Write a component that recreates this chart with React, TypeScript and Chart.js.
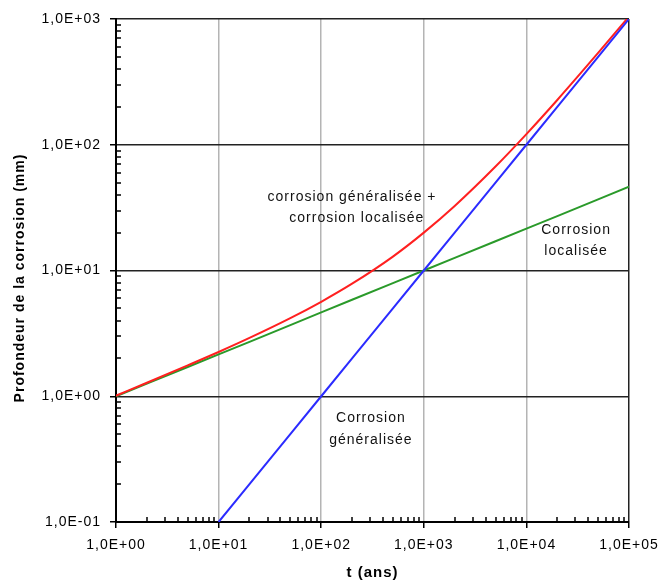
import React, { useEffect, useRef } from 'react';
import { Chart, registerables } from 'chart.js';

Chart.register(...registerables);

// Time (years) and depth (mm) samples
const years = [1, 2, 5, 10, 20, 50, 100, 200, 500, 1000, 2000, 5000, 10000, 20000, 50000, 100000];
const generalYears = [10, 20, 50, 100, 200, 500, 1000, 2000, 5000, 10000, 20000, 50000, 100000];
const generalDepth = [0.1, 0.2, 0.5, 1, 2, 5, 10, 20, 50, 100, 200, 500, 1000];
const localDepth = [1, 1.26, 1.71, 2.15, 2.71, 3.68, 4.64, 5.85, 7.94, 10, 12.6, 17.1, 21.5, 27.1, 36.8, 46.4];
const combinedDepth = [1.01, 1.28, 1.76, 2.25, 2.91, 4.18, 5.64, 7.85, 12.9, 20, 32.6, 67.1, 121.5, 227, 537, 1046];

const xTickValues = [1, 10, 100, 1000, 10000, 100000];
const xTickLabels = ['1,0E+00', '1,0E+01', '1,0E+02', '1,0E+03', '1,0E+04', '1,0E+05'];
const yTickValues = [0.1, 1, 10, 100, 1000];
const yTickLabels = ['1,0E-01', '1,0E+00', '1,0E+01', '1,0E+02', '1,0E+03'];
const minorMultipliers = [2, 3, 4, 5, 6, 7, 8, 9];

const yTitle = 'Profondeur de la corrosion (mm)';

// In-plot text: anchor in data units
const notes = [
  { text: 'corrosion généralisée +', x: 1330, y: 38, align: 'right' as CanvasTextAlign },
  { text: 'corrosion localisée', x: 1010, y: 26, align: 'right' as CanvasTextAlign },
  { text: 'Corrosion', x: 30500, y: 20.9, align: 'center' as CanvasTextAlign },
  { text: 'localisée', x: 30500, y: 14.2, align: 'center' as CanvasTextAlign },
  { text: 'Corrosion', x: 305, y: 0.675, align: 'center' as CanvasTextAlign },
  { text: 'généralisée', x: 305, y: 0.444, align: 'center' as CanvasTextAlign },
];

const FONT = "'Liberation Sans', Arial, sans-serif";

const spacingPlugin = {
  id: 'spacing',
  beforeDraw(chart: any) {
    chart.ctx.letterSpacing = '1px';
  },
};

const minorTicksPlugin = {
  id: 'minorTicks',
  afterDraw(chart: any) {
    const { ctx, chartArea, scales } = chart;
    const len = 5;
    ctx.save();
    ctx.strokeStyle = '#000';
    ctx.lineWidth = 1.5;
    ctx.beginPath();
    for (let i = 0; i < xTickValues.length - 1; i++) {
      for (const m of minorMultipliers) {
        const px = Math.round(scales.x.getPixelForValue(xTickValues[i] * m));
        ctx.moveTo(px, chartArea.bottom);
        ctx.lineTo(px, chartArea.bottom - len);
      }
    }
    for (let i = 0; i < yTickValues.length - 1; i++) {
      for (const m of minorMultipliers) {
        const py = Math.round(scales.y.getPixelForValue(yTickValues[i] * m));
        ctx.moveTo(chartArea.left, py);
        ctx.lineTo(chartArea.left + len, py);
      }
    }
    ctx.stroke();
    ctx.restore();
  },
};

const notesPlugin = {
  id: 'notes',
  afterDraw(chart: any) {
    const { ctx, scales } = chart;
    ctx.save();
    ctx.letterSpacing = '1px';
    ctx.font = `14px ${FONT}`;
    ctx.fillStyle = '#111';
    ctx.textBaseline = 'middle';
    for (const n of notes) {
      ctx.textAlign = n.align;
      ctx.fillText(n.text, scales.x.getPixelForValue(n.x), scales.y.getPixelForValue(n.y));
    }
    // vertical axis title, slightly below the plot's mid-height
    ctx.translate(20, 278);
    ctx.rotate(-Math.PI / 2);
    ctx.font = `bold 14px ${FONT}`;
    ctx.fillStyle = '#000';
    ctx.textAlign = 'center';
    ctx.fillText(yTitle, 0, 0);
    ctx.restore();
  },
};

export default function App() {
  const canvasRef = useRef<HTMLCanvasElement | null>(null);

  useEffect(() => {
    if (!canvasRef.current) return;
    const chart = new Chart(canvasRef.current, {
      type: 'line',
      data: {
        datasets: [
          {
            label: 'Corrosion généralisée',
            data: generalYears.map((x, i) => ({ x, y: generalDepth[i] })),
            borderColor: '#2b2bff',
            borderWidth: 2,
            pointRadius: 0,
          },
          {
            label: 'corrosion généralisée + corrosion localisée',
            data: years.map((x, i) => ({ x, y: combinedDepth[i] })),
            borderColor: '#ff2020',
            borderWidth: 2,
            pointRadius: 0,
            cubicInterpolationMode: 'monotone',
          },
          {
            label: 'Corrosion localisée',
            data: years.map((x, i) => ({ x, y: localDepth[i] })),
            borderColor: '#2a9a2a',
            borderWidth: 2,
            pointRadius: 0,
          },
        ],
      },
      options: {
        responsive: false,
        animation: false,
        layout: { padding: { top: 19, right: 36, left: 0, bottom: 0 } },
        plugins: { legend: { display: false }, tooltip: { enabled: false } },
        scales: {
          x: {
            type: 'logarithmic',
            min: 1,
            max: 100000,
            afterBuildTicks: (scale: any) => {
              scale.ticks = xTickValues.map((v) => ({ value: v }));
            },
            afterFit: (scale: any) => {
              scale.height = 63;
            },
            ticks: {
              autoSkip: false,
              maxRotation: 0,
              padding: 9,
              color: '#000',
              font: { family: FONT, size: 14 },
              callback: (v: any) => {
                const i = xTickValues.indexOf(Number(v));
                return i >= 0 ? xTickLabels[i] : '';
              },
            },
            grid: {
              color: (c: any) => (c.tick && c.tick.value === 100000 ? '#222' : '#b4b4b4'),
              lineWidth: 1.5,
              tickLength: 6,
              tickColor: '#000',
              tickWidth: 1.5,
            },
            border: { color: '#000', width: 2 },
            title: {
              display: true,
              text: 't (ans)',
              color: '#000',
              font: { family: FONT, size: 15, weight: 'bold' },
              padding: { top: 0, bottom: 3 },
            },
          },
          y: {
            type: 'logarithmic',
            min: 0.1,
            max: 1000,
            afterBuildTicks: (scale: any) => {
              scale.ticks = yTickValues.map((v) => ({ value: v }));
            },
            afterFit: (scale: any) => {
              scale.width = 116;
            },
            ticks: {
              autoSkip: false,
              padding: 9,
              color: '#000',
              font: { family: FONT, size: 14 },
              callback: (v: any) => {
                const i = yTickValues.indexOf(Number(v));
                return i >= 0 ? yTickLabels[i] : '';
              },
            },
            grid: {
              color: '#222',
              lineWidth: 1.5,
              tickLength: 6,
              tickColor: '#000',
              tickWidth: 1.5,
            },
            border: { color: '#000', width: 2 },
          },
        },
      },
      plugins: [spacingPlugin, minorTicksPlugin, notesPlugin],
    } as any);
    return () => chart.destroy();
  }, []);

  return (
    <div style={{ position: 'absolute', left: 0, top: 0, width: 665, height: 585, background: '#fff' }}>
      <canvas ref={canvasRef} width={665} height={585} style={{ display: 'block' }} />
    </div>
  );
}
